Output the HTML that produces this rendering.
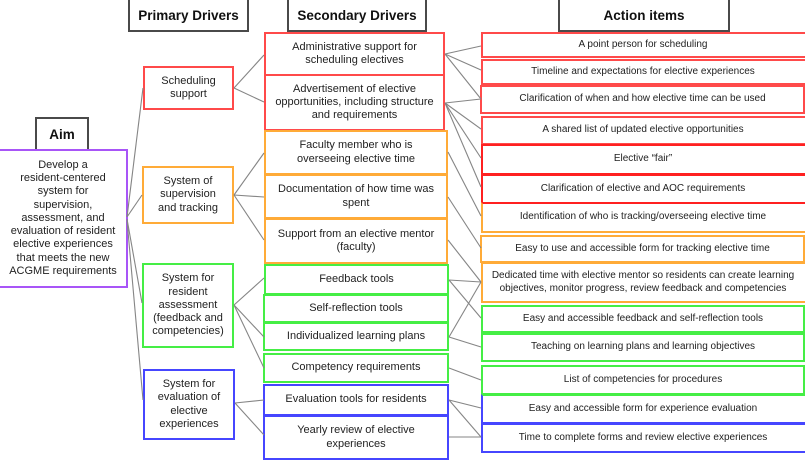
<!DOCTYPE html>
<html>
<head>
<meta charset="utf-8">
<style>
  html, body { margin:0; padding:0; }
  body { width:805px; height:453px; overflow:hidden; background:#fff; position:relative;
         font-family:"Liberation Sans", Arial, sans-serif; color:#222; }
  .b { position:absolute; box-sizing:border-box; display:flex; align-items:center; justify-content:center;
       text-align:center; background:#fff; border:2px solid #444; }
  .h { font-weight:bold; font-size:13.5px; color:#111; border-color:#4a4a4a; }
  .s { font-size:11px; line-height:13.3px; }
  .a { font-size:10px; line-height:12.3px; }
  .red { border-color:#ff4a4a; }
  .red2 { border-color:#ff2020; }
  .org { border-color:#ffab38; }
  .grn { border-color:#45ee45; }
  .blu { border-color:#4646ff; }
  .pur { border-color:#a855f7; }
  svg { position:absolute; left:0; top:0; z-index:5; }
</style>
</head>
<body>

<!-- Headers -->
<div class="b h" style="left:128px;top:-2px;width:121px;height:34px;">Primary Drivers</div>
<div class="b h" style="left:287px;top:-2px;width:140px;height:34px;">Secondary Drivers</div>
<div class="b h" style="left:558px;top:-2px;width:172px;height:34px;">Action items</div>
<div class="b h" style="left:35px;top:117px;width:54px;height:34px;">Aim</div>

<!-- Aim -->
<div class="b s pur" style="left:-2px;top:149px;width:130px;height:139px;">Develop a<br>resident-centered<br>system for<br>supervision,<br>assessment, and<br>evaluation of resident<br>elective experiences<br>that meets the new<br>ACGME requirements</div>

<!-- Primary drivers -->
<div class="b s red" style="left:143px;top:66px;width:91px;height:44px;">Scheduling<br>support</div>
<div class="b s org" style="left:142px;top:166px;width:92px;height:58px;">System of<br>supervision<br>and tracking</div>
<div class="b s grn" style="left:142px;top:263px;width:92px;height:85px;">System for<br>resident<br>assessment<br>(feedback and<br>competencies)</div>
<div class="b s blu" style="left:143px;top:369px;width:92px;height:71px;">System for<br>evaluation of<br>elective<br>experiences</div>

<!-- Secondary drivers -->
<div class="b s red" style="left:264px;top:32px;width:181px;height:44px;">Administrative support for<br>scheduling electives</div>
<div class="b s red" style="left:264px;top:74px;width:181px;height:57px;">Advertisement of elective<br>opportunities, including structure<br>and requirements</div>
<div class="b s org" style="left:264px;top:130px;width:184px;height:45px;">Faculty member who is<br>overseeing elective time</div>
<div class="b s org" style="left:264px;top:174px;width:184px;height:45px;">Documentation of how time was<br>spent</div>
<div class="b s org" style="left:264px;top:218px;width:184px;height:46px;">Support from an elective mentor<br>(faculty)</div>
<div class="b s grn" style="left:264px;top:264px;width:185px;height:31px;">Feedback tools</div>
<div class="b s grn" style="left:263px;top:294px;width:186px;height:29px;">Self-reflection tools</div>
<div class="b s grn" style="left:263px;top:322px;width:186px;height:29px;">Individualized learning plans</div>
<div class="b s grn" style="left:263px;top:353px;width:186px;height:30px;">Competency requirements</div>
<div class="b s blu" style="left:263px;top:384px;width:186px;height:32px;">Evaluation tools for residents</div>
<div class="b s blu" style="left:263px;top:415px;width:186px;height:45px;">Yearly review of elective<br>experiences</div>

<!-- Action items -->
<div class="b a red" style="left:481px;top:32px;width:340px;height:26px;"><span style="margin-right:16px">A point person for scheduling</span></div>
<div class="b a red" style="left:481px;top:59px;width:340px;height:26px;"><span style="margin-right:16px">Timeline and expectations for elective experiences</span></div>
<div class="b a red" style="left:480px;top:85px;width:325px;height:29px;">Clarification of when and how elective time can be used</div>
<div class="b a red" style="left:481px;top:116px;width:340px;height:29px;"><span style="margin-right:16px">A shared list of updated elective opportunities</span></div>
<div class="b a red2" style="left:481px;top:144px;width:340px;height:31px;"><span style="margin-right:16px">Elective “fair”</span></div>
<div class="b a red2" style="left:481px;top:174px;width:340px;height:30px;"><span style="margin-right:16px">Clarification of elective and AOC requirements</span></div>
<div class="b a org" style="left:481px;top:202px;width:340px;height:31px;border-top-color:#ff2020;"><span style="margin-right:16px">Identification of who is tracking/overseeing elective time</span></div>
<div class="b a org" style="left:480px;top:235px;width:325px;height:28px;">Easy to use and accessible form for tracking elective time</div>
<div class="b a org" style="left:481px;top:262px;width:340px;height:41px;"><span style="margin-right:16px">Dedicated time with elective mentor so residents can create learning<br>objectives, monitor progress, review feedback and competencies</span></div>
<div class="b a grn" style="left:481px;top:305px;width:324px;height:28px;">Easy and accessible feedback and self-reflection tools</div>
<div class="b a grn" style="left:481px;top:333px;width:324px;height:29px;">Teaching on learning plans and learning objectives</div>
<div class="b a grn" style="left:481px;top:365px;width:324px;height:30px;">List of competencies for procedures</div>
<div class="b a blu" style="left:481px;top:394px;width:340px;height:30px;border-top-color:#45ee45;"><span style="margin-right:16px">Easy and accessible form for experience evaluation</span></div>
<div class="b a blu" style="left:481px;top:423px;width:340px;height:30px;"><span style="margin-right:16px">Time to complete forms and review elective experiences</span></div>

<!-- Connectors -->
<svg width="805" height="453" viewBox="0 0 805 453">
  <g stroke="#858585" stroke-width="1.1" fill="none">
    <!-- Aim to primary -->
    <line x1="127" y1="217" x2="143" y2="88"/>
    <line x1="127" y1="217" x2="142" y2="195"/>
    <line x1="127" y1="219" x2="142" y2="303"/>
    <line x1="127" y1="220" x2="143" y2="400"/>
    <!-- Primary to secondary -->
    <line x1="234" y1="88" x2="264" y2="55"/>
    <line x1="234" y1="88" x2="264" y2="102"/>
    <line x1="234" y1="195" x2="264" y2="153"/>
    <line x1="234" y1="195" x2="264" y2="197"/>
    <line x1="234" y1="195" x2="264" y2="240"/>
    <line x1="234" y1="305" x2="264" y2="278"/>
    <line x1="234" y1="305" x2="264" y2="337"/>
    <line x1="234" y1="305" x2="264" y2="368"/>
    <line x1="235" y1="403" x2="264" y2="400"/>
    <line x1="235" y1="403" x2="264" y2="435"/>
    <!-- Secondary to action -->
    <line x1="445" y1="54" x2="481" y2="46"/>
    <line x1="445" y1="54" x2="481" y2="70"/>
    <line x1="445" y1="54" x2="481" y2="99"/>
    <line x1="445" y1="103" x2="481" y2="99"/>
    <line x1="445" y1="103" x2="481" y2="129"/>
    <line x1="445" y1="103" x2="481" y2="158"/>
    <line x1="445" y1="103" x2="481" y2="187"/>
    <line x1="448" y1="152" x2="481" y2="216"/>
    <line x1="448" y1="197" x2="481" y2="248"/>
    <line x1="448" y1="240" x2="481" y2="282"/>
    <line x1="449" y1="280" x2="481" y2="282"/>
    <line x1="449" y1="280" x2="481" y2="318"/>
    <line x1="449" y1="337" x2="481" y2="282"/>
    <line x1="449" y1="337" x2="481" y2="347"/>
    <line x1="449" y1="368" x2="481" y2="380"/>
    <line x1="449" y1="400" x2="481" y2="408"/>
    <line x1="449" y1="400" x2="481" y2="437"/>
    <line x1="449" y1="437" x2="481" y2="437"/>
  </g>
</svg>

</body>
</html>
